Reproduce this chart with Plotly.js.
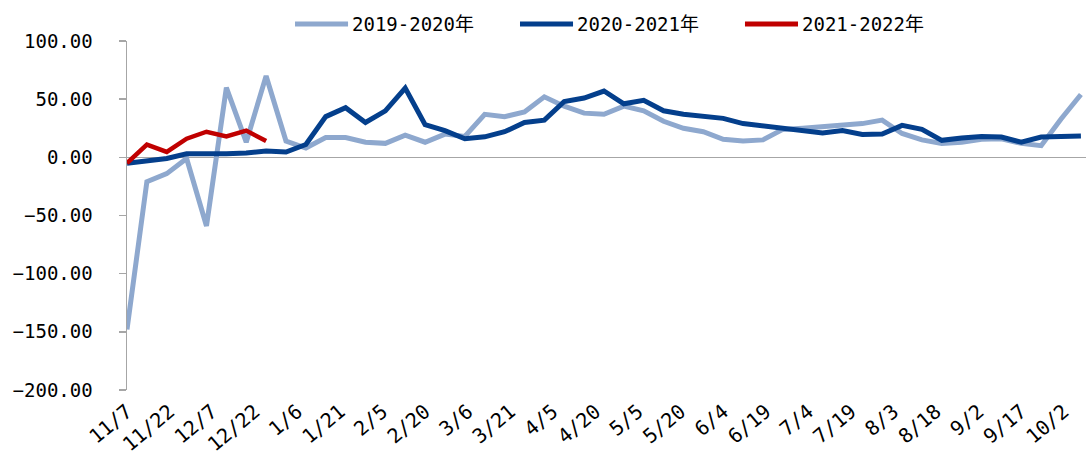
<!DOCTYPE html>
<html>
<head>
<meta charset="utf-8">
<script src="https://cdn.plot.ly/plotly-3.0.1.min.js"></script>
<style>html,body{margin:0;padding:0;background:#fff;}#chart{width:1086px;height:456px;}</style>
</head>
<body>
<div id="chart"></div>
<script>
// Week-by-week series, first week starting 2019-11-07 (same calendar position each season)
const startDate = '2019-11-07';
const seriesNames = ['2019-2020年', '2020-2021年', '2021-2022年'];
const s2019 = [-148, -21, -14, -1, -59, 60, 13, 70, 14, 8, 17, 17, 13, 12, 19, 13, 20, 18, 37, 35,
  39, 52, 44, 38, 37, 44, 40, 31, 25, 22, 15.5, 14, 15, 24, 25, 26, 28, 29, 32, 20.5,
  15, 12, 13, 15.5, 16, 12, 10, 33, 54];
const s2020 = [-5, -2.6, -1, 3, 2.5, 3, 3.7, 5.4, 4.6, 11, 35, 42.7, 30, 40, 59.5, 28, 23, 16, 17.6, 22,
  30, 32, 48, 51, 57, 46, 49, 40, 37, 35.5, 33.5, 29, 27, 24, 22.5, 21, 23, 19.6, 20, 27.5,
  24, 14.6, 16.6, 18, 17.5, 13, 17.5, 18, 18.4];
const s2021 = [-5, 11, 4.6, 16, 22, 18, 23, 14];
const tickLabels = ['11/7', '11/22', '12/7', '12/22', '1/6', '1/21', '2/5', '2/20', '3/6', '3/21', '4/5',
  '4/20', '5/5', '5/20', '6/4', '6/19', '7/4', '7/19', '8/3', '8/18', '9/2', '9/17', '10/2'];
const colors = ['#8EA8CE', '#043F8C', '#C00000'];

function pad(n){ return (n < 10 ? '0' : '') + n; }
function weekDates(n){
  const base = new Date(startDate + 'T00:00:00Z');
  const out = [];
  for (let i = 0; i < n; i++) {
    const d = new Date(base.getTime() + i * 7 * 86400000);
    out.push(d.getUTCFullYear() + '-' + pad(d.getUTCMonth() + 1) + '-' + pad(d.getUTCDate()));
  }
  return out;
}
const tickVals = tickLabels.map(l => {
  const [m, d] = l.split('/').map(Number);
  return (m >= 11 ? 2019 : 2020) + '-' + pad(m) + '-' + pad(d);
});

const font = 'DejaVu Sans Mono, "Noto Sans CJK SC", sans-serif';
const axisGray = '#A6A6A6';
const xRange = ['2019-11-07', '2020-10-09 19:00'];
const yRange = [-200, 100];
const zeroFrac = (0 - yRange[0]) / (yRange[1] - yRange[0]);
const widths = [5, 5, 4.5];
const series = [s2019, s2020, s2021];

const traces = series.map((s, i) => ({
  x: weekDates(s.length), y: s, name: seriesNames[i], type: 'scatter', mode: 'lines',
  line: {color: colors[i], width: widths[i]}
}));

// legend laid out as in the original (long line keys)
const legendX = [0.1752, 0.4098, 0.6444];
const legendKey = 0.0553;
const legendY = 1.0487;
const shapes = [], annotations = [];
seriesNames.forEach((n, i) => {
  shapes.push({type: 'line', xref: 'paper', yref: 'paper', x0: legendX[i], x1: legendX[i] + legendKey,
    y0: legendY, y1: legendY, line: {color: colors[i], width: 5}});
  annotations.push({xref: 'paper', yref: 'paper', x: legendX[i] + legendKey + 0.002, y: legendY,
    xanchor: 'left', yanchor: 'middle', showarrow: false, text: n,
    font: {family: font, size: 19, color: '#000'}});
});

const layout = {
  width: 1086, height: 456,
  margin: {l: 127, r: 0, t: 41, b: 66},
  paper_bgcolor: '#fff', plot_bgcolor: 'rgba(0,0,0,0)',
  font: {family: font, size: 19, color: '#000'},
  showlegend: false,
  shapes: shapes, annotations: annotations,
  xaxis: {type: 'date', range: xRange, tickmode: 'array', tickvals: tickVals, ticktext: tickLabels,
    tickangle: -40, showline: false, ticks: '', showgrid: false, zeroline: false,
    ticklabelstandoff: 5, tickfont: {family: font, size: 20, color: '#000'}},
  // helper axis pair whose bottom edge sits at y = 0: carries the category tick marks
  xaxis2: {type: 'date', anchor: 'y2', matches: 'x', range: xRange, tickmode: 'array', tickvals: tickVals,
    showticklabels: false, showline: false, ticks: 'outside', ticklen: 7,
    tickcolor: axisGray, tickwidth: 1.5, showgrid: false, zeroline: false},
  yaxis2: {domain: [zeroFrac, 1], anchor: 'x2', range: [0, 1], showgrid: false, zeroline: false,
    showline: false, showticklabels: false, ticks: ''},
  yaxis: {domain: [0, 1], range: yRange, dtick: 50, tick0: 0, tickformat: '.2f', showline: true,
    linecolor: axisGray, linewidth: 1.5, ticks: 'outside', ticklen: 7, tickcolor: axisGray,
    tickwidth: 1.5, showgrid: false, zeroline: true, zerolinecolor: axisGray, zerolinewidth: 1.5,
    ticklabelstandoff: 22, tickfont: {family: font, size: 19, color: '#000'}}
};

Plotly.newPlot('chart', traces, layout, {displayModeBar: false, staticPlot: true});
</script>
</body>
</html>
